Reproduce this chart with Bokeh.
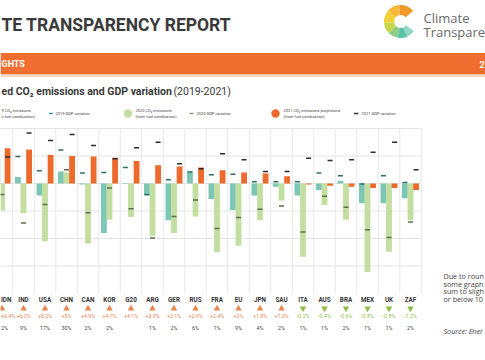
import numpy as np
from bokeh.plotting import figure
from bokeh.models import Range1d
from bokeh.embed import file_html
from bokeh.resources import INLINE
from bokeh.core.properties import value

# ---------------- data ----------------
countries = ["IDN", "IND", "USA", "CHN", "CAN", "KOR", "G20", "ARG", "GER", "RUS",
             "FRA", "EU", "JPN", "SAU", "ITA", "AUS", "BRA", "MEX", "UK", "ZAF"]
co2_2019 = [4.5, 1.2, -2.2, 2.2, -0.2, -9.0, -0.1, -2.2, -6.7, 2.2,
            -2.8, -4.8, -2.2, -0.6, -2.2, -1.2, 0.5, -3.6, -3.6, -2.7]
co2_2020 = [-4.9, -5.4, -10.5, 2.0, -10.9, -6.6, -6.1, -9.5, -9.0, -6.0,
            -12.5, -11.3, -6.7, -3.1, -13.3, -3.9, -6.6, -16.1, -12.4, -6.7]
co2_2021 = [6.4, 6.2, 5.2, 5.0, 4.9, 4.7, 4.1, 3.3, 3.1, 2.9,
            2.4, 2.0, 1.8, 1.3, -0.2, -0.4, -0.6, -0.8, -0.8, -1.2]
gdp_2019 = [5.0, 4.9, 2.3, 6.1, 1.9, 2.0, 2.9, -2.0, 0.7, 2.1,
            1.6, 1.7, 0.3, 0.3, 0.3, 1.9, 1.4, -0.1, 1.4, 0.2]
gdp_2020 = [-2.0, -7.2, -3.8, 2.5, -5.3, -0.8, -4.6, -9.9, -6.0, -3.0,
            -8.2, -6.2, -4.7, -4.1, -8.8, -2.3, -4.3, -8.4, -9.8, -7.0]
gdp_2021 = [4.8, 9.2, 7.8, 8.9, 6.9, 4.5, 6.5, 7.5, 3.6, 2.7,
            5.4, 4.3, 2.2, 2.2, 4.6, 4.2, 4.3, 5.7, 7.5, 2.5]
share_labels = ["2%", "9%", "17%", "30%", "2%", "2%", "", "1%", "2%", "6%",
                "1%", "9%", "4%", "2%", "1%", "1%", "2%", "1%", "1%", "2%"]
grid_values = [10, 5, 0, -5, -10, -15]
note_lines = ["Due to roun", "some graph", "sum to sligh", "or below 10"]

# ---------------- colours ----------------
TEAL = "#7cc6b3"
GREEN = "#c2dea0"
ORANGE = "#ec6a2c"
HEADER = "#f06f30"
DARK = "#3a3a3a"
UP = "#e8864e"
DOWN = "#8fbc45"

# ---------------- layout ----------------
W, H = 485, 360
CX0, CELL = 1.5, 21.5          # px centre of first country, px per country
ZERO_Y, PX_PCT = 183.0, 5.5    # px of 0 %, px per 1 %
OFF, BW = 0.26, 0.27

p = figure(width=W, height=H, x_range=Range1d(0, W), y_range=Range1d(H, 0),
           output_backend="svg", toolbar_location=None, min_border=0,
           x_axis_location=None, y_axis_location=None)
p.xgrid.visible = False
p.ygrid.visible = False
p.outline_line_color = None
p.background_fill_color = "white"
p.border_fill_color = "white"

p.extra_x_ranges = {"cat": Range1d((0 - CX0) / CELL, (W - CX0) / CELL)}
p.extra_y_ranges = {"val": Range1d((ZERO_Y - H) / PX_PCT, ZERO_Y / PX_PCT)}
C = dict(x_range_name="cat", y_range_name="val")

n = len(countries)
idx = np.arange(n)

# ---------------- header ----------------
p.text(x=[1], y=[24], text=["TE TRANSPARENCY REPORT"],
       text_baseline="middle", text_font=value("Roboto"),
       text_font_style="bold", text_font_size="17.5px", text_color=DARK)

# logo
logo_cols = ["#f39a2d", "#f8b93a", "#f1d13a", "#c9d64b", "#8fcd86", "#5cc2a8", "#92d8c6"]
logo_a0 = [40, 95, 140, 185, 225, 260, 295]
logo_a1 = [95, 140, 185, 225, 260, 295, 325]
for c, a0, a1 in zip(logo_cols, logo_a0, logo_a1):
    p.annular_wedge(x=[400], y=[21], inner_radius=6.5, outer_radius=16.5,
                    start_angle=np.deg2rad(a0), end_angle=np.deg2rad(a1),
                    direction="anticlock", fill_color=c, line_color=None)
p.text(x=[423], y=[17.5], text=["Climate"], text_baseline="middle",
       text_font=value("Open Sans"), text_font_size="13px", text_color="#6a6a6a")
p.text(x=[423], y=[31], text=["Transpare"], text_baseline="middle",
       text_font=value("Open Sans"), text_font_size="13px", text_color="#6a6a6a")

# orange band
p.quad(left=[0], right=[W], top=[52.5], bottom=[74], fill_color=HEADER, line_color=None)
p.quad(left=[0], right=[W], top=[74], bottom=[76.5], fill_color="#fbd9bf", line_color=None)
p.text(x=[1], y=[63.5], text=["GHTS"], text_baseline="middle",
       text_font=value("Roboto"), text_font_style="bold", text_font_size="9px",
       text_color="white")
p.text(x=[479], y=[63.5], text=["2"], text_baseline="middle",
       text_font=value("Roboto"), text_font_style="bold", text_font_size="9px",
       text_color="white")

# subtitle
p.text(x=[1], y=[91], text=["ed CO\u2082 emissions and GDP variation"],
       text_baseline="middle", text_font=value("Roboto"),
       text_font_style="bold", text_font_size="10.5px", text_color=DARK)
p.text(x=[173], y=[91], text=["(2019-2021)"], text_baseline="middle",
       text_font=value("Roboto"), text_font_size="10.5px", text_color=DARK)

# legend
LF = "4px"
def leg_text(x, y, t):
    p.text(x=[x], y=[y], text=[t], text_baseline="middle", text_font=value("Roboto"),
           text_font_size=LF, text_color="#444444")

leg_text(1, 109.8, "9 CO\u2082 emissions")
leg_text(1, 115.8, "n fuel combustion)")
p.segment(x0=[48.5], x1=[52.5], y0=[113], y1=[113], line_color="#3a9f8a", line_width=1.5)
leg_text(55, 113, "2019 GDP variation")

p.circle(x=[127.5], y=[113], radius=4.2, fill_color=GREEN, line_color=None)
leg_text(135, 109.8, "2020 CO\u2082 emissions")
leg_text(135, 115.8, "(from fuel combustion)")
p.segment(x0=[189], x1=[193], y0=[113], y1=[113], line_color="#8a9a80", line_width=1.5)
leg_text(196, 113, "2020 GDP variation")

p.circle(x=[275], y=[113], radius=4.2, fill_color=ORANGE, line_color=None)
leg_text(283, 109.8, "2021 CO\u2082 emissions projections")
leg_text(283, 115.8, "(from fuel combustion)")
p.segment(x0=[353.5], x1=[358], y0=[113], y1=[113], line_color="#333333", line_width=1.5)
leg_text(361, 113, "2021 GDP variation")

# ---------------- chart grid ----------------
gx0 = [-1.0] * len(grid_values)
gx1 = [n - 0.5] * len(grid_values)
p.segment(x0=gx0, x1=gx1, y0=grid_values, y1=grid_values, line_color="#e4e4e4",
          line_width=1, **C)
sep = idx + 0.5
p.segment(x0=sep, x1=sep, y0=[-20] * n, y1=[10] * n, line_color="#e8e8e8",
          line_width=1, **C)

# bars
p.vbar(x=idx - OFF, top=co2_2019, bottom=0, width=BW, fill_color=TEAL, line_color=None, **C)
p.vbar(x=idx, top=co2_2020, bottom=0, width=BW, fill_color=GREEN, line_color=None, **C)
p.vbar(x=idx + OFF, top=co2_2021, bottom=0, width=BW, fill_color=ORANGE, line_color=None, **C)

# GDP dashes
p.scatter(x=idx - OFF, y=gdp_2019, marker="dash", size=5, line_width=1.5,
          line_color="#2f6f66", **C)
p.scatter(x=idx, y=gdp_2020, marker="dash", size=5, line_width=1.5,
          line_color="#5d6f4c", **C)
p.scatter(x=idx + OFF, y=gdp_2021, marker="dash", size=5, line_width=1.5,
          line_color="#2b2b2b", **C)

# ---------------- bottom rows ----------------
first_x = (0.5 - CX0) / CELL   # first column is at the left edge: left-align its texts
chg = [f"{v:+g}%" for v in co2_2021]
chg_col = [UP if v >= 0 else DOWN for v in co2_2021]
rows = [(299.5, countries, ["#333333"] * n, "6.3px", "bold"),
        (315.3, chg, chg_col, "5.3px", "normal"),
        (327.0, share_labels, ["#444444"] * n, "5.3px", "normal")]
for yy, labels, cols, fs, st in rows:
    p.text(x=idx[1:], y=[yy] * (n - 1), text=labels[1:], text_color=cols[1:],
           text_align="center", text_baseline="middle", text_font=value("Roboto"),
           text_font_style=st, text_font_size=fs, x_range_name="cat")
    p.text(x=[first_x], y=[yy], text=[labels[0]], text_color=cols[0],
           text_align="left", text_baseline="middle", text_font=value("Roboto"),
           text_font_style=st, text_font_size=fs, x_range_name="cat")

up = [i for i in range(n) if co2_2021[i] >= 0]
dn = [i for i in range(n) if co2_2021[i] < 0]
p.scatter(x=up, y=[308] * len(up), marker="triangle", size=6.5, fill_color=UP,
          line_color=None, x_range_name="cat")
p.scatter(x=dn, y=[308] * len(dn), marker="inverted_triangle", size=6.5, fill_color=DOWN,
          line_color=None, x_range_name="cat")

# note
for k, t in enumerate(note_lines):
    p.text(x=[443], y=[275.8 + 7.5 * k], text=[t], text_baseline="middle",
           text_font=value("Open Sans"), text_font_size="7.2px", text_color="#444444")
p.text(x=[443], y=[330], text=["Source: Ener"], text_baseline="middle",
       text_font=value("Open Sans"), text_font_style="italic", text_font_size="7.2px",
       text_color="#444444")

open("out.html", "w").write(file_html(p, INLINE))
